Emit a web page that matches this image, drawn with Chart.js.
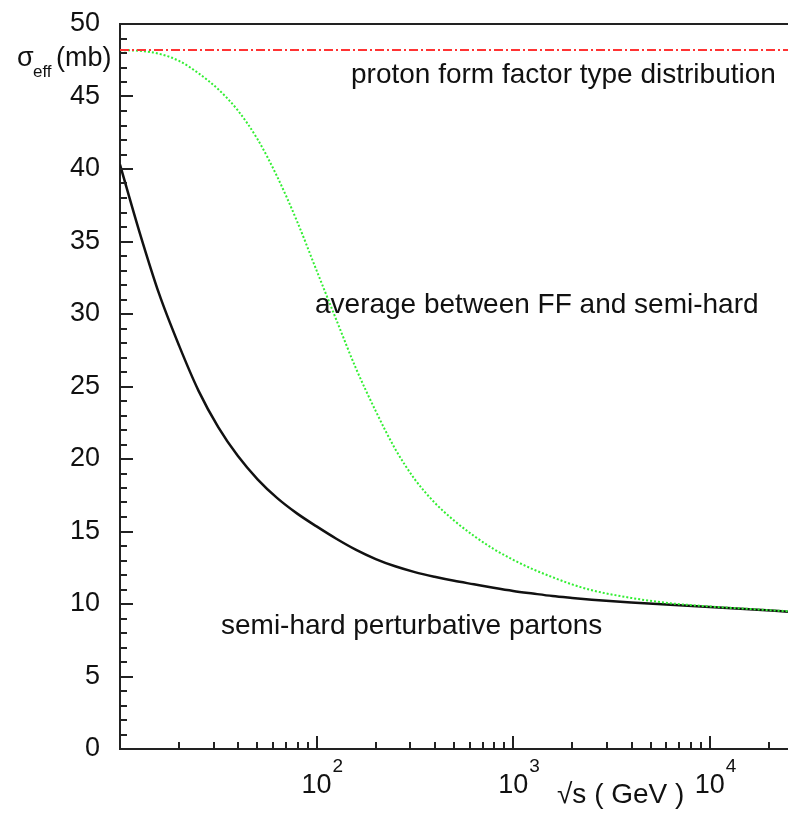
<!DOCTYPE html>
<html lang="en">
<head>
    <meta charset="UTF-8">
    <title>sigma_eff vs sqrt(s)</title>

    <script src="https://cdn.jsdelivr.net/npm/chart.js"></script>

    <style>
        html, body { margin: 0; padding: 0; background: #fff; }
        canvas { display: block; }
    </style>

    <script>
        // sqrt(s) em GeV
        var energias = [10, 12.6, 15.8, 20, 25.1, 31.6, 39.8, 50.1, 63.1, 79.4, 100, 126, 158, 200, 251, 316, 398, 501, 631, 794, 1000, 1259, 1585, 1995, 2512, 3981, 6310, 10000, 15850, 25000];
        // semi-hard perturbative partons
        var semiHard = [40.3, 35.6, 31.4, 27.8, 24.7, 22.2, 20.2, 18.6, 17.3, 16.25, 15.35, 14.5, 13.75, 13.1, 12.6, 12.2, 11.88, 11.6, 11.36, 11.12, 10.9, 10.72, 10.55, 10.42, 10.3, 10.1, 9.95, 9.8, 9.64, 9.47];
        // average between FF and semi-hard
        var media = [48.2, 48.15, 47.95, 47.45, 46.6, 45.5, 44.03, 42.05, 39.46, 36.42, 33.0, 29.6, 26.3, 23.3, 20.7, 18.6, 17.0, 15.75, 14.7, 13.8, 13.05, 12.4, 11.85, 11.35, 10.95, 10.42, 10.05, 9.83, 9.66, 9.5];
        // proton form factor type distribution
        var fatorForma = [48.2, 48.2];
        var fatorFormaX = [10, 25000];

        var xTickValores = [100, 1000, 10000];
        var xTickExpoentes = ['2', '3', '4'];

        var fonte = '"Liberation Sans", Arial, sans-serif';

        function pontos(xs, ys) {
            return xs.map(function(v, i) { return { x: v, y: ys[i] }; });
        }

        var pluginEixos = {
            id: 'eixos',
            afterDraw: function(chart) {
                var ctx = chart.ctx;
                var area = chart.chartArea;
                var sx = chart.scales.x;
                var sy = chart.scales.y;
                ctx.save();
                ctx.strokeStyle = '#222';
                ctx.lineWidth = 2;

                ctx.beginPath();
                ctx.moveTo(area.left, area.top);
                ctx.lineTo(area.right, area.top);
                ctx.stroke();

                // ticks do eixo y (para dentro)
                for (var v = 0; v <= 50; v++) {
                    var py = Math.round(sy.getPixelForValue(v));
                    var len = (v % 5 === 0) ? 13 : 7;
                    ctx.beginPath();
                    ctx.moveTo(area.left, py);
                    ctx.lineTo(area.left + len, py);
                    ctx.stroke();
                }

                // ticks do eixo x (log)
                for (var k = 1; k <= 4; k++) {
                    for (var m = 1; m <= 9; m++) {
                        var val = m * Math.pow(10, k);
                        if (val <= sx.min || val > sx.max) continue;
                        var px = Math.round(sx.getPixelForValue(val));
                        var l = (m === 1) ? 13 : 7;
                        ctx.beginPath();
                        ctx.moveTo(px, area.bottom);
                        ctx.lineTo(px, area.bottom - l);
                        ctx.stroke();
                    }
                }

                ctx.fillStyle = '#111';
                ctx.textBaseline = 'alphabetic';

                // rotulos 10^n
                xTickValores.forEach(function(val, i) {
                    var px = sx.getPixelForValue(val);
                    ctx.font = '27px ' + fonte;
                    ctx.textAlign = 'center';
                    ctx.fillText('10', px, 793);
                    ctx.font = '19px ' + fonte;
                    ctx.textAlign = 'left';
                    ctx.fillText(xTickExpoentes[i], px + 16, 772);
                });

                ctx.textAlign = 'left';
                ctx.font = '28px ' + fonte;
                ctx.fillText('\u221As ( GeV )', 557, 803);

                // titulo do eixo y
                ctx.font = '27px ' + fonte;
                ctx.fillText('\u03C3', 17, 66);
                ctx.font = '17px ' + fonte;
                ctx.fillText('eff', 33, 77);
                ctx.font = '27px ' + fonte;
                ctx.fillText('(mb)', 56, 66);

                ctx.font = '28px ' + fonte;
                ctx.fillText('proton form factor type distribution', 351, 83);
                ctx.fillText('average between FF and semi-hard', 315, 313);
                ctx.fillText('semi-hard perturbative partons', 221, 634);

                ctx.restore();
            }
        };

        window.onload = function() {
            var ctx = document.getElementById('grafico').getContext('2d');

            var config = {
                type: 'line',
                data: {
                    datasets: [{
                        label: 'proton form factor type distribution',
                        data: pontos(fatorFormaX, fatorForma),
                        borderColor: '#ff3333',
                        borderWidth: 2,
                        borderDash: [9, 3, 2, 3],
                        pointRadius: 0
                    }, {
                        label: 'average between FF and semi-hard',
                        data: pontos(energias, media),
                        borderColor: '#33ee33',
                        borderWidth: 2,
                        borderDash: [2, 2],
                        pointRadius: 0,
                        cubicInterpolationMode: 'monotone'
                    }, {
                        label: 'semi-hard perturbative partons',
                        data: pontos(energias, semiHard),
                        borderColor: '#111',
                        borderWidth: 2.5,
                        pointRadius: 0,
                        cubicInterpolationMode: 'monotone'
                    }]
                },
                options: {
                    responsive: false,
                    animation: false,
                    layout: { autoPadding: false, padding: { top: 24, right: 0, bottom: 0, left: 0 } },
                    plugins: {
                        legend: { display: false },
                        tooltip: { enabled: false }
                    },
                    scales: {
                        x: {
                            type: 'logarithmic',
                            min: 10,
                            max: 25000,
                            grid: { display: false, drawTicks: false },
                            border: { display: true, color: '#222', width: 2 },
                            ticks: { display: false },
                            afterFit: function(s) {
                                s.height = 65;
                                s.paddingLeft = 0;
                                s.paddingRight = 0;
                            }
                        },
                        y: {
                            min: 0,
                            max: 50,
                            grid: { display: false, drawTicks: false },
                            border: { display: true, color: '#222', width: 2 },
                            ticks: {
                                stepSize: 5,
                                padding: 20,
                                color: '#111',
                                font: { family: fonte, size: 27 }
                            },
                            afterFit: function(s) {
                                s.width = 120;
                                s.paddingTop = 0;
                                s.paddingBottom = 0;
                            }
                        }
                    }
                },
                plugins: [pluginEixos]
            };

            new Chart(ctx, config);
        };
    </script>
</head>
<body>
    <canvas id="grafico" width="788" height="814"></canvas>
</body>
</html>
